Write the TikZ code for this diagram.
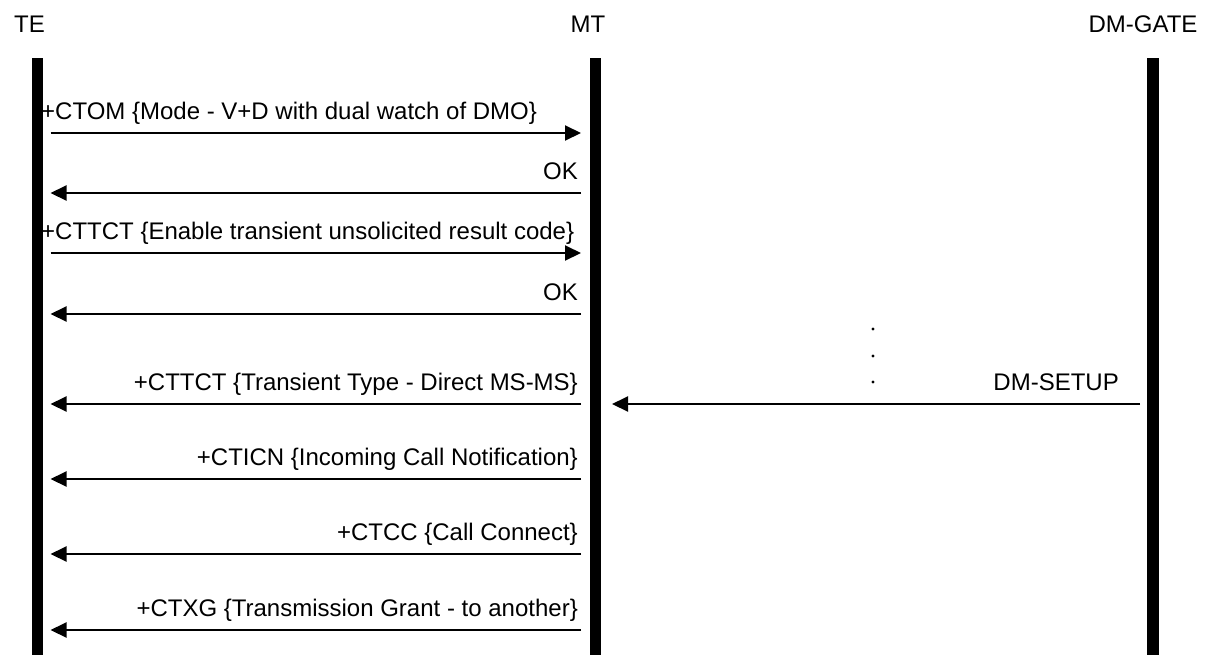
\documentclass[tikz,border=0pt]{standalone}
\usepackage{fontspec}
\setmainfont{Liberation Sans}
\usetikzlibrary{arrows.meta}
\begin{document}
\begin{tikzpicture}[x=1pt,y=-1pt,
  lifeline/.style={line width=11pt},
  msg/.style={line width=2pt,-{Triangle[length=16pt,width=15pt]}},
  lbl/.style={inner sep=0pt,font=\fontsize{24}{28}\selectfont},
  head/.style={inner sep=0pt,font=\fontsize{24}{28}\selectfont,anchor=base}]
\useasboundingbox (0,0) rectangle (1215,654);
% headings
\node[head,anchor=base west] (hte) at (14,32) {TE};
\node[head] (hmt) at (588,32) {MT};
\node[head] (hdm) at (1143,32) {DM-GATE};
% lifelines
\coordinate (te0) at (37.5,58); \coordinate (te1) at (37.5,660);
\coordinate (mt0) at (595,58); \coordinate (mt1) at (595,660);
\coordinate (dm0) at (1152.5,58); \coordinate (dm1) at (1152.5,660);
\draw[lifeline] (te0) -- (te1);
\draw[lifeline] (mt0) -- (mt1);
\draw[lifeline,line width=12pt] (dm0) -- (dm1);
% message endpoints
\foreach \n/\y in {1/133,2/193,3/253,4/314,5/404,6/479,7/554,8/630}{
  \coordinate (a\n) at (50.5,\y);
  \coordinate (b\n) at (581,\y);
}
\coordinate (s1) at (1140,404);
\coordinate (s2) at (612,404);
% arrows
\draw[msg] (a1) -- (b1);
\draw[msg] (b2) -- (a2);
\draw[msg] (a3) -- (b3);
\draw[msg] (b4) -- (a4);
\draw[msg] (b5) -- (a5);
\draw[msg] (b6) -- (a6);
\draw[msg] (b7) -- (a7);
\draw[msg] (b8) -- (a8);
\draw[msg] (s1) -- (s2);
% labels
\node[lbl,anchor=base west] (l1) at (41,119) {+CTOM \{Mode - V+D with dual watch of DMO\}};
\node[lbl,anchor=base east] (l2) at (578,179) {OK};
\node[lbl,anchor=base west] (l3) at (41,239) {+CTTCT \{Enable transient unsolicited result code\}};
\node[lbl,anchor=base east] (l4) at (578,300) {OK};
\node[lbl,anchor=base east] (l5) at (578,390) {+CTTCT \{Transient Type - Direct MS-MS\}};
\node[lbl,anchor=base east] (l6) at (578,465) {+CTICN \{Incoming Call Notification\}};
\node[lbl,anchor=base east] (l7) at (578,540) {+CTCC \{Call Connect\}};
\node[lbl,anchor=base east] (l8) at (578,616) {+CTXG \{Transmission Grant - to another\}};
\node[lbl,anchor=base east] (ls) at (1119,390) {DM-SETUP};
% dots
\foreach \y in {329,356,382}{\fill (873,\y) circle (1.6pt);}
\end{tikzpicture}
\end{document}
